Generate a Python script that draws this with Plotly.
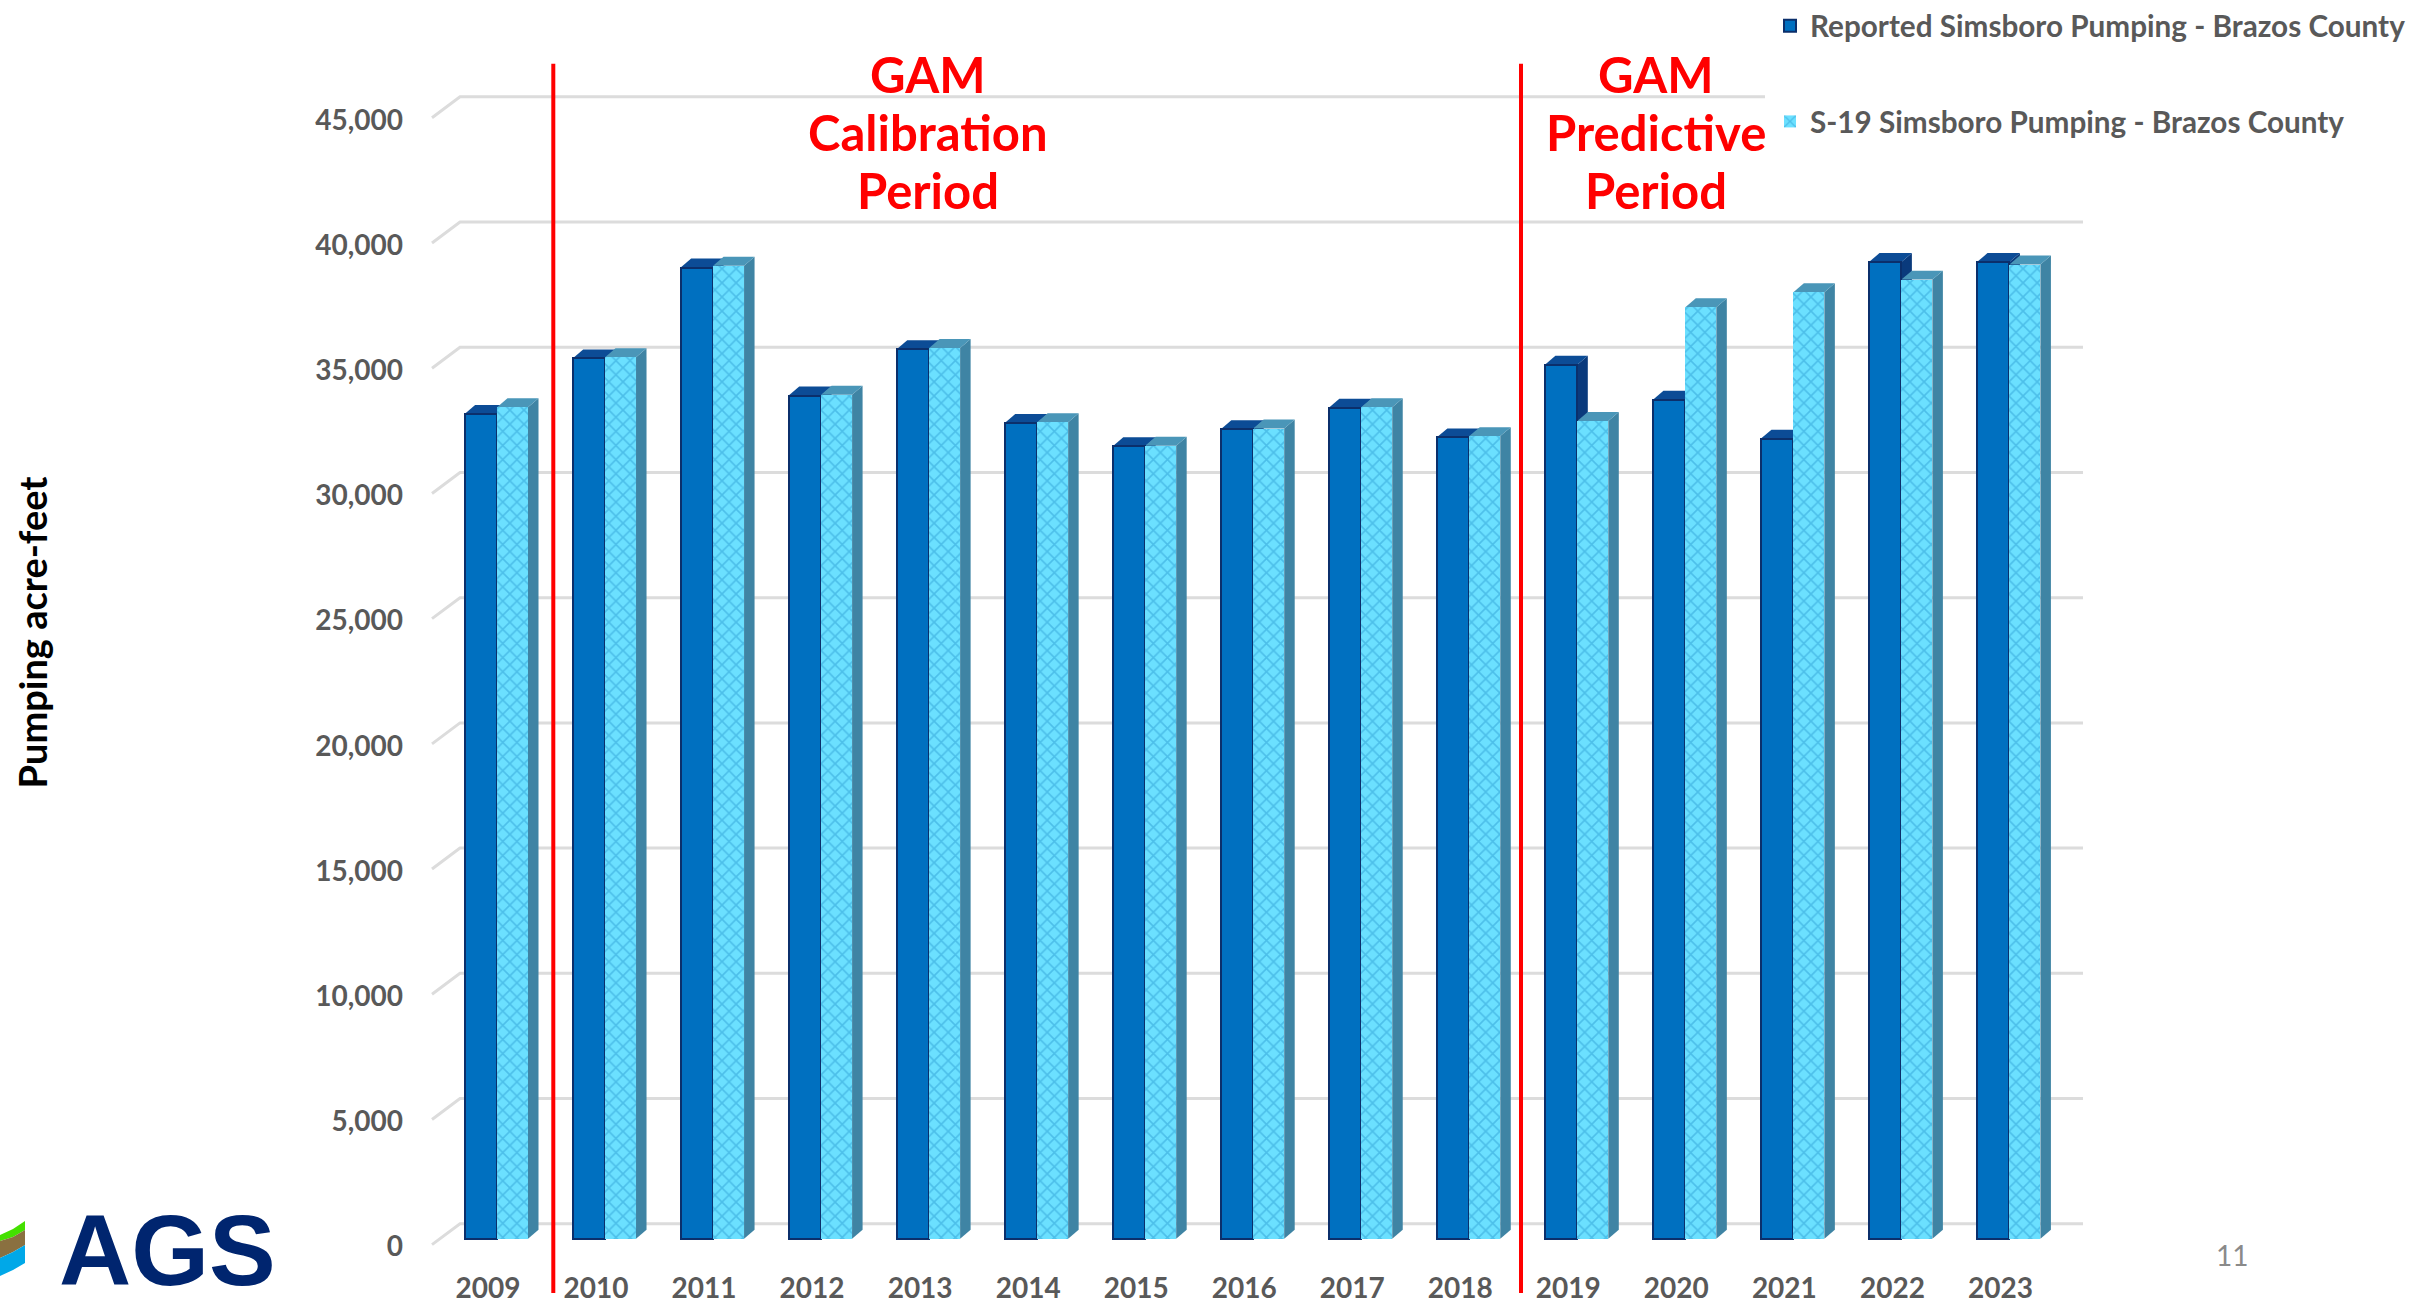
import plotly.graph_objects as go

years = list(range(2009, 2024))
reported = [32930, 35150, 38780, 33670, 35520, 32570, 31650, 32320, 33180, 32000, 34900, 33500, 31950, 39000, 39000]
s19 = [33200, 35200, 38850, 33700, 35570, 32600, 31670, 32350, 33200, 32050, 32650, 37200, 37800, 38300, 38900]
gridvals = list(range(0, 50000, 5000))
name_reported = "Reported Simsboro Pumping - Brazos County"
name_s19 = "S-19 Simsboro Pumping - Brazos County"

W, H = 2420, 1304
L, R, T, B = 425, 2110, 0, 1268         # plot box in pixels
BOTTOM_MARGIN = 30                       # the legend adds a few pixels to this when the page is laid out
PX_X = 108.03                            # pixels per year
PX_Y = 125.5 / 5000                      # pixels per acre-foot
X0_PX, Y0_PX = 488, 1241.6

def xd(px): return 2009 + (px - X0_PX) / PX_X
def yd(py): return (Y0_PX - py) / PX_Y
def xp(px): return (px - L) / (R - L)
def yp(py): return (B - py) / (B - T)

DEPTH_X, DEPTH_Y = 10.5 / PX_X, 9 / PX_Y
DARK_OFF, DARK_W = -23.4 / PX_X, 32.4 / PX_X
LIGHT_OFF, LIGHT_W = 9 / PX_X, 31 / PX_X

shapes = []
GRID = "#dcdcdc"
for v in gridvals[:10]:
    x_end = 1765 if v == 45000 else 2083
    y_back = v + 15 / PX_Y
    path = (f"M{xd(432)},{v - 6 / PX_Y} L{xd(460)},{y_back} L{xd(x_end)},{y_back}")
    shapes.append(dict(type="path", path=path, xref="x", yref="y", layer="below",
                       line=dict(color=GRID, width=3)))

def faces(xl, xr, v, top, side):
    return [
        dict(type="path", xref="x", yref="y", layer="below", fillcolor=side, line=dict(width=0),
             path=f"M{xr},0 L{xr + DEPTH_X},{DEPTH_Y} L{xr + DEPTH_X},{v + DEPTH_Y} L{xr},{v} Z"),
        dict(type="path", xref="x", yref="y", layer="below", fillcolor=top, line=dict(width=0),
             path=f"M{xl},{v} L{xl + DEPTH_X},{v + DEPTH_Y} L{xr + DEPTH_X},{v + DEPTH_Y} L{xr},{v} Z"),
    ]

for y, a, b in zip(years, reported, s19):
    shapes += faces(y + DARK_OFF, y + DARK_OFF + DARK_W, a, "#0c4c96", "#0a3a7c")
    shapes += faces(y + LIGHT_OFF, y + LIGHT_OFF + LIGHT_W, b, "#4a96b8", "#3f84a4")

for px in (553.3, 1521):
    shapes.append(dict(type="line", xref="x", yref="paper", layer="above",
                       x0=xd(px), x1=xd(px), y0=yp(64), y1=yp(1296),
                       line=dict(color="#ff0000", width=4)))

# logo swoosh
def logo(pts, color):
    p = "M" + " L".join(f"{xp(x)},{yp(y)}" for x, y in pts) + " Z"
    return dict(type="path", path=p, xref="paper", yref="paper", layer="above",
                fillcolor=color, line=dict(width=0))
shapes += [
    logo([(0, 1238), (13, 1232), (25, 1224), (25, 1233), (13, 1240), (0, 1244)], "#44e000"),
    logo([(0, 1244), (13, 1240), (25, 1233), (25, 1248), (13, 1255), (0, 1261)], "#8a7040"),
    logo([(0, 1261), (13, 1255), (25, 1248), (25, 1266), (13, 1273), (0, 1279)], "#00a8e8"),
]

fig = go.Figure()
fig.add_bar(x=years, y=reported, name=name_reported, offset=DARK_OFF, width=DARK_W,
            legendgroup="a",
            marker=dict(color="#0070c0", line=dict(color="#0b2f6b", width=2)))
fig.add_bar(x=years, y=s19, name=name_s19, offset=LIGHT_OFF, width=LIGHT_W,
            legendgroup="b",
            marker=dict(color="#68dcfb", line=dict(width=0),
                        pattern=dict(shape="x", size=10, solidity=0.3,
                                     fgcolor="#2e9ed4", bgcolor="#6be0ff")))

FONT = "Lato"
RED = dict(family=FONT, size=49, color="#ff0000", weight="bold")
annotations = []
for cx, lines in ((928, ["GAM", "Calibration", "Period"]), (1656, ["GAM", "Predictive", "Period"])):
    for py, line in zip((74.5, 132.5, 190.5), lines):
        annotations.append(dict(x=xd(cx), y=yd(py), xref="x", yref="y", text=line,
                                xanchor="center", yanchor="middle",
                                showarrow=False, font=RED, align="center"))
annotations += [
    dict(x=xp(2232), y=yp(1258), xref="paper", yref="paper", text="11", showarrow=False,
         xanchor="center", yanchor="middle",
         font=dict(family=FONT, size=28, color="#8a8a8a")),
    dict(x=xp(167), y=yp(1253), xref="paper", yref="paper", text="AGS", showarrow=False,
         xanchor="center", yanchor="middle",
         font=dict(family="Liberation Sans", size=100, color="#00256f", weight="bold")),
]

fig.update_layout(
    width=W, height=H, autosize=False,
    margin=dict(l=L, r=W - R, t=T, b=BOTTOM_MARGIN, pad=0),
    paper_bgcolor="white", plot_bgcolor="white",
    barmode="overlay", bargap=0,
    shapes=shapes, annotations=annotations,
    font=dict(family=FONT),
    legend=dict(xref="paper", yref="paper", x=xp(1770), y=1,
                xanchor="left", yanchor="top", tracegroupgap=54, traceorder="grouped",
                bgcolor="rgba(0,0,0,0)",
                font=dict(family=FONT, size=29.7, color="#595959", weight="bold")),
    xaxis=dict(range=[xd(L), xd(R)], tickmode="array", tickvals=years, ticktext=[str(y) for y in years],
               showgrid=False, zeroline=False, showline=False, ticks="",
               ticklabelstandoff=4,
               tickfont=dict(family=FONT, size=28, color="#595959", weight="bold")),
    yaxis=dict(range=[yd(B), yd(T)], tickmode="array",
               tickvals=gridvals[:10], ticktext=[f"{v:,}" for v in gridvals[:10]],
               showgrid=False, zeroline=False, showline=False, ticks="",
               ticklabelstandoff=21, ticklabelshift=8,
               tickfont=dict(family=FONT, size=28, color="#595959", weight="bold"),
               title=dict(text="Pumping acre-feet", standoff=255,
                          font=dict(family=FONT, size=38, color="#000000", weight="bold"))),
)
fig.write_html("out.html", config=dict(displayModeBar=False),
               post_script="document.body.style.margin='0';")
